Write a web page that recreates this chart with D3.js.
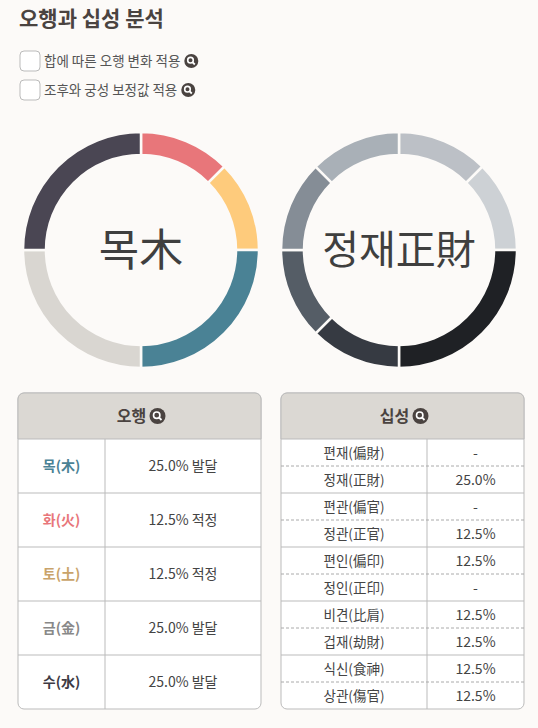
<!DOCTYPE html><html><head><meta charset="utf-8"><script src="https://cdn.jsdelivr.net/npm/d3@7"></script>
<style>body{margin:0;background:#fcfaf8;font-family:"Noto Sans CJK KR","Noto Sans",sans-serif}</style></head><body><svg id="c" width="538" height="728"></svg><script>
const ohaengNames=["화(火)","토(土)","목(木)","금(金)","수(水)"];
const ohaengValues=[12.5,12.5,25,25,25];
const ohaengColors=["#e8767a","#fecb7c","#4a8295","#d9d6d1","#4a4653"];
const tableOhaeng=["목(木)","화(火)","토(土)","금(金)","수(水)"];
const tableOhaengVal=["25.0% 발달","12.5% 적정","12.5% 적정","25.0% 발달","25.0% 발달"];
const tableOhaengColor=["#4a8295","#e8767a","#c9a36a","#888","#3d3a44"];
const sipNames=["정관","편인","정재","비견","겁재","식신","상관"];
const sipValues=[12.5,12.5,25,12.5,12.5,12.5,12.5];
const sipColors=["#bcc0c6","#cdd1d5","#1f2125","#363a42","#555d66","#858d96","#a9b0b7"];
const tableSip=["편재(偏財)","정재(正財)","편관(偏官)","정관(正官)","편인(偏印)","정인(正印)","비견(比肩)","겁재(劫財)","식신(食神)","상관(傷官)"];
const tableSipVal=["-","25.0%","-","12.5%","12.5%","-","12.5%","12.5%","12.5%","12.5%"];
const svg=d3.select("#c");
const txt="#4a4340";
svg.append("text").attr("x",19).attr("y",26).attr("font-size",21).attr("font-weight",700).attr("fill",txt).text("오행과 십성 분석");
function mag(g,x,y,r){g.append("circle").attr("cx",x).attr("cy",y).attr("r",r).attr("fill","#4a4340");
 g.append("circle").attr("cx",x-0.8).attr("cy",y-0.8).attr("r",r*0.4).attr("fill","none").attr("stroke","#fff").attr("stroke-width",1.6);
 g.append("line").attr("x1",x+r*0.2).attr("y1",y+r*0.2).attr("x2",x+r*0.5).attr("y2",y+r*0.5).attr("stroke","#fff").attr("stroke-width",1.8);}
[["합에 따른 오행 변화 적용",61],["조후와 궁성 보정값 적용",90]].forEach(([t,y])=>{
 svg.append("rect").attr("x",20).attr("y",y-10).attr("width",20).attr("height",20).attr("rx",4).attr("fill","#fff").attr("stroke","#bbb");
 const tn=svg.append("text").attr("x",44).attr("y",y+5).attr("font-size",13.5).attr("fill","#555").text(t);
 mag(svg,44+tn.node().getComputedTextLength()+11,y,7);});
function donut(cx,cy,vals,cols,label,fs){
 const pie=d3.pie().sort(null).value(d=>d)(vals);
 const arc=d3.arc().innerRadius(95).outerRadius(118);
 const g=svg.append("g").attr("transform",`translate(${cx},${cy})`);
 g.selectAll("path").data(pie).join("path").attr("d",arc).attr("fill",(d,i)=>cols[i]).attr("stroke","#fcfaf8").attr("stroke-width",2.5);
 g.append("text").attr("text-anchor","middle").attr("y",fs*0.36).attr("font-size",fs).attr("fill","#3f3f3f").text(label);}
donut(141,250,ohaengValues,ohaengColors,"목木",44);
donut(399,250,sipValues,sipColors,"정재正財",40);
function table(x,w,title,rows,vals,cols,div,rowH,dashed,fs){
 const y0=393,hh=46,h=hh+rows.length*rowH;
 const g=svg.append("g");
 g.append("rect").attr("x",x).attr("y",y0).attr("width",w).attr("height",h).attr("rx",6).attr("fill","#fff").attr("stroke","#bbb");
 g.append("path").attr("d",`M${x},${y0+hh}V${y0+6}a6,6 0 0 1 6,-6H${x+w-6}a6,6 0 0 1 6,6V${y0+hh}Z`).attr("fill","#dbd8d3").attr("stroke","#bbb");
 g.append("text").attr("x",x+w/2-8).attr("y",y0+29).attr("text-anchor","middle").attr("font-size",16).attr("font-weight",700).attr("fill",txt).text(title);
 mag(g,x+w/2+18,y0+23,8);
 const ys=d3.scaleBand().domain(d3.range(rows.length)).range([y0+hh,y0+h]);
 g.append("line").attr("x1",x+div).attr("x2",x+div).attr("y1",y0+hh).attr("y2",y0+h).attr("stroke","#bbb");
 rows.forEach((r,i)=>{const y=ys(i);
  if(i>0)g.append("line").attr("x1",x).attr("x2",x+w).attr("y1",y).attr("y2",y).attr("stroke",dashed&&i%2==1?"#aaa":"#bbb").attr("stroke-dasharray",dashed&&i%2==1?"3,2":null);
  g.append("text").attr("x",x+div/2).attr("y",y+rowH/2+5).attr("text-anchor","middle").attr("font-size",fs).attr("font-weight",cols?700:400).attr("fill",cols?cols[i]:"#444").text(r);
  g.append("text").attr("x",x+div+(w-div)/2).attr("y",y+rowH/2+5).attr("text-anchor","middle").attr("font-size",14).attr("fill","#444").text(vals[i]);});}
table(18,243,"오행",tableOhaeng,tableOhaengVal,tableOhaengColor,87,54,false,14);
table(281,243,"십성",tableSip,tableSipVal,null,146,27,true,13.5);
</script></body></html>
